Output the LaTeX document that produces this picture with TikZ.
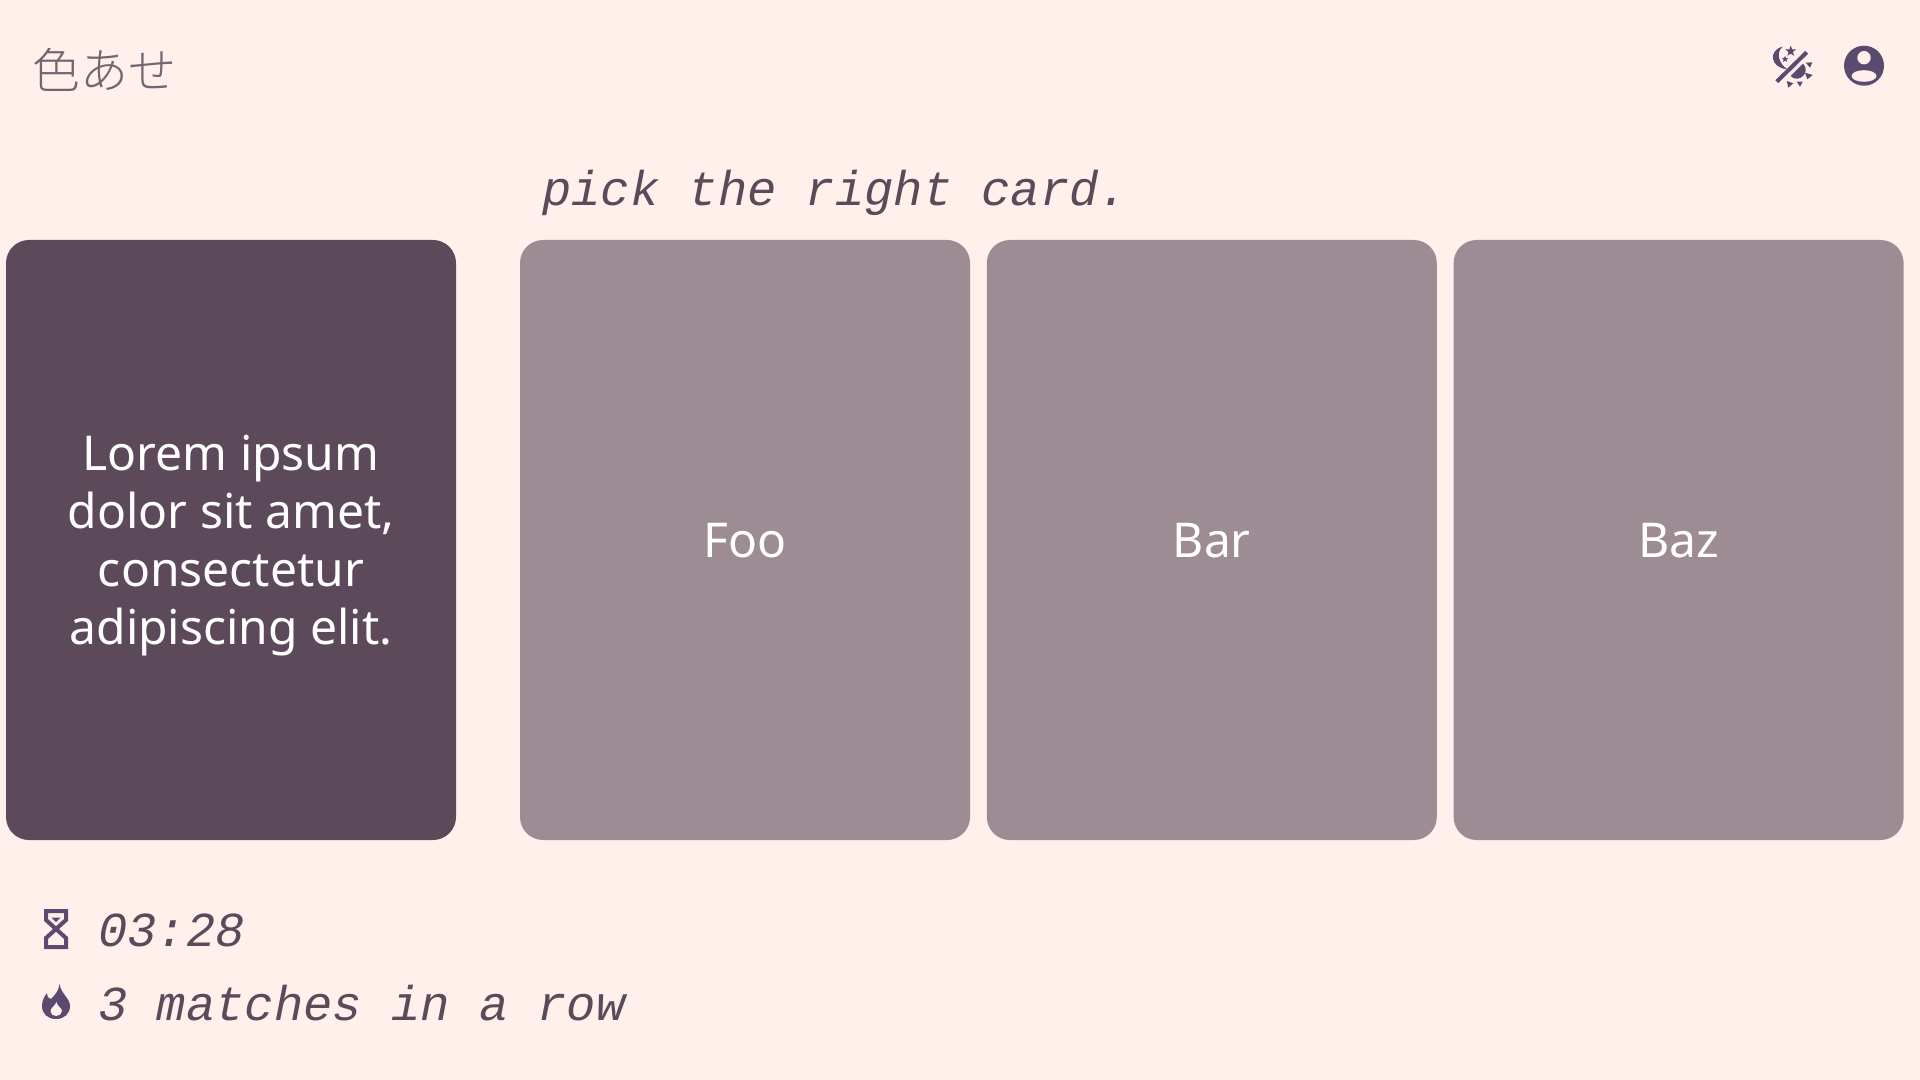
\documentclass[tikz,border=0pt]{standalone}
\usepackage{fontspec}
\setmainfont{Noto Sans}
\setmonofont{Liberation Mono}
\newfontfamily\cjkfont{Noto Sans CJK JP Light}
\usetikzlibrary{positioning}
\definecolor{paper}{HTML}{FFF0EC}
\definecolor{plum}{HTML}{5C4A5A}
\definecolor{mauve}{HTML}{9D8C93}
\definecolor{iconink}{HTML}{5A4A70}

\begin{document}
\begin{tikzpicture}[x=0.5pt,y=-0.5pt,
  cardbox/.style={rounded corners=11.5pt,minimum width=225pt,minimum height=300pt,inner sep=0pt},
  choice/.style={cardbox,fill=mauve},
  cardtext/.style={inner sep=0pt,text=white,align=center,font=\fontsize{24}{29}\selectfont},
  mono/.style={inner sep=0pt,anchor=base west,text=plum,font=\fontsize{24.4}{29}\selectfont\ttfamily\itshape},
  icon/.style={fill=iconink,draw=none}]
  \fill[paper] (0,0) rectangle (1920,1080);
  % header
  \node[inner sep=0pt,anchor=base west,text=plum!85!paper,font=\fontsize{24}{29}\selectfont\cjkfont] (title) at (32.5,89) {色あせ};
  \node[mono] (prompt) at (542,206) {pick the right card.};
  % cards
  \node[cardbox,fill=plum] (question) at (231,540) {};
  \node[choice] (foo) at (745,540) {};
  \node[choice,right=8pt of foo] (bar) {};
  \node[choice,right=8pt of bar] (baz) {};
  \node[cardtext] (questiontext) at ([yshift=-3pt]question)
    {Lorem ipsum\\dolor sit amet,\\consectetur\\adipiscing elit.};
  \node[cardtext] (footext) at ([yshift=-.5pt]foo) {Foo};
  \node[cardtext] (bartext) at ([yshift=-.5pt]bar) {Bar};
  \node[cardtext] (baztext) at ([yshift=-.5pt]baz) {Baz};
  % stats
  \node[mono] (timer) at (98,946) {03:28};
  \node[mono] (streak) at (98,1020) {3 matches in a row};
  % hourglass
  \draw[iconink,line width=2pt,line join=miter]
    (46,911) -- (66,911) -- (66,920) -- (46,938) -- (46,947) -- (66,947) -- (66,938) -- (46,920) -- cycle;
  \fill[icon] (51.5,917.5) -- (60.5,917.5) -- (56,922) -- cycle;
  % flame
  \fill[icon] (59.5,984) .. controls (61,994) and (70,998) .. (70,1006)
    .. controls (70,1014) and (64,1019) .. (56,1019)
    .. controls (48,1019) and (42,1014) .. (42,1006)
    .. controls (42,1001) and (44,997) .. (47,993)
    .. controls (47,997) and (49,999) .. (51,999)
    .. controls (54,996) and (59,991) .. (59.5,984) -- cycle;
  \fill[paper] (56.5,1002) .. controls (57,1006) and (62,1008) .. (62,1011)
    .. controls (62,1014) and (59,1016) .. (56,1016)
    .. controls (53,1016) and (50.5,1014) .. (50.5,1011)
    .. controls (50.5,1008) and (55,1006) .. (56.5,1002) -- cycle;
  % profile
  \fill[icon] (1864,65.7) circle[radius=20];
  \fill[paper] (1864,57.7) circle[radius=6.7];
  \fill[paper] (1864,76) ellipse[x radius=12.5,y radius=5.8];
  % theme toggle
  \draw[iconink,line width=2pt] (1776.7,81.7) -- (1806.7,52.3);
  \fill[icon] (1782.7,46.7) .. controls (1768,50) and (1770,68) .. (1787.3,69.3)
    .. controls (1778,63) and (1776,52) .. (1782.7,46.7) -- cycle;
  \fill[icon] (1790.7,45.5) -- (1792,49.3) -- (1796,49.5) -- (1792.9,52) -- (1794,55.8) -- (1790.7,53.6) -- (1787.4,55.8) -- (1788.5,52) -- (1785.4,49.5) -- (1789.4,49.3) -- cycle;
  \fill[icon] (1785,55.7) -- (1785.9,58) -- (1788.3,58.1) -- (1786.4,59.6) -- (1787.1,62) -- (1785,60.6) -- (1782.9,62) -- (1783.6,59.6) -- (1781.7,58.1) -- (1784.1,58) -- cycle;
  \fill[icon] (1790.5,76) -- (1803,63.5) .. controls (1811.3,71.8) and (1798.8,84.3) .. (1790.5,76) -- cycle;
  \fill[icon] (1805.7,62.7) -- (1812.3,62.3) -- (1810,67.7) -- cycle;
  \fill[icon] (1805,72.7) -- (1812.7,75) -- (1807.3,79.3) -- cycle;
  \fill[icon] (1796.7,81.7) -- (1802.7,81.7) -- (1800,86.7) -- cycle;
  \fill[icon] (1786.7,81) -- (1793.3,83.3) -- (1788.3,87.7) -- cycle;
\end{tikzpicture}
\end{document}
